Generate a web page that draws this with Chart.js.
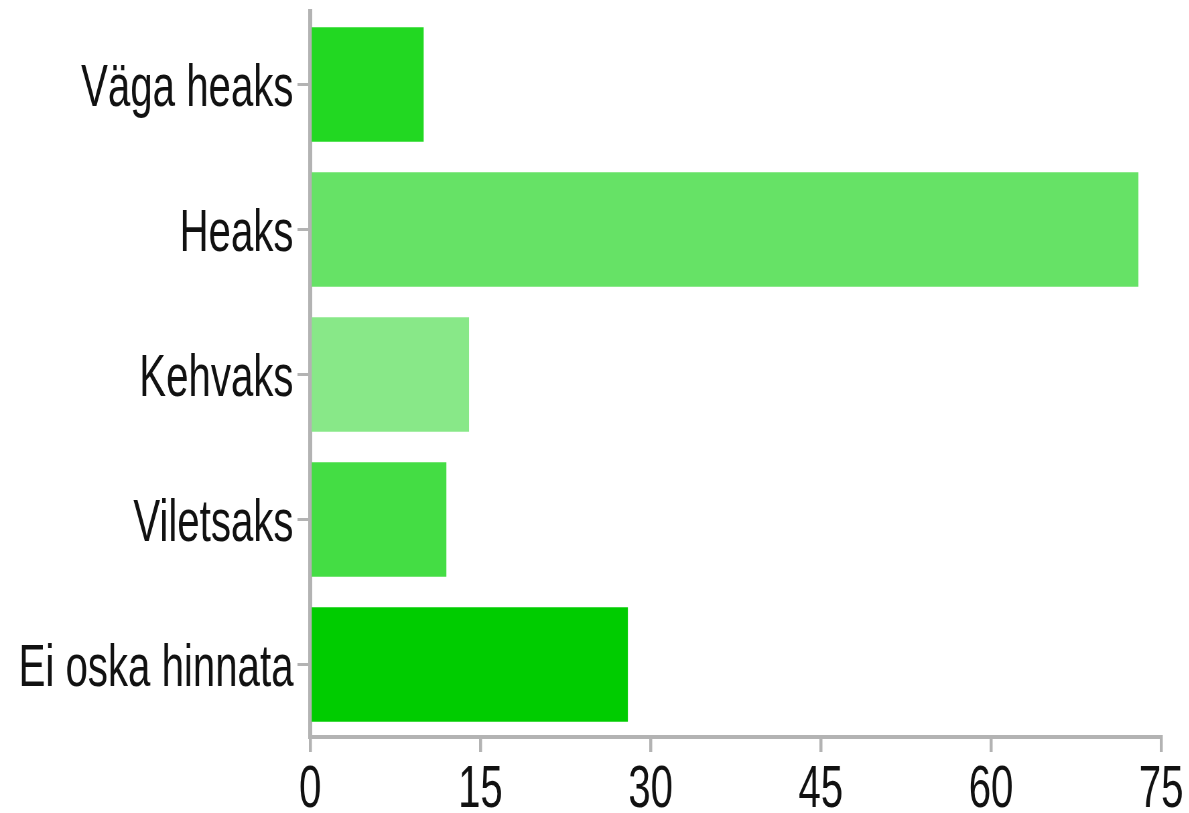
<!DOCTYPE html>
<html>
<head>
<meta charset="utf-8">
<script src="https://cdn.jsdelivr.net/npm/chart.js@4.4.1/dist/chart.umd.min.js"></script>
<style>
  html, body { margin: 0; padding: 0; background: #ffffff; overflow: hidden; }
  #marco { width: 1189px; height: 813px; overflow: hidden; }
  /* el texto del original es estrecho: se dibuja más ancho y se comprime en horizontal */
  #wrap { width: 1775px; height: 813px; transform: scaleX(0.67); transform-origin: 0 0; }
</style>
</head>
<body>
<div id="marco"><div id="wrap"><canvas id="grafico"></canvas></div></div>
<script>
// Datos del gráfico
const categorias = ["Väga heaks", "Heaks", "Kehvaks", "Viletsaks", "Ei oska hinnata"];
const valores = [10, 73, 14, 12, 28];
const colores = ["#22d822", "#66e266", "#88e888", "#44dd44", "#00cc00"];
const ticksX = [0, 15, 30, 45, 60, 75];

const gris = "#b3b3b3";
const fuente = { family: "'Liberation Sans', Arial, sans-serif", size: 60 };

const ctx = document.getElementById("grafico").getContext("2d");
new Chart(ctx, {
    type: "bar",
    data: {
        labels: categorias,
        datasets: [{
            data: valores,
            backgroundColor: colores,
            borderWidth: 0,
            barPercentage: 0.79,
            categoryPercentage: 1.0
        }]
    },
    options: {
        indexAxis: "y",
        responsive: true,
        maintainAspectRatio: false,
        animation: false,
        layout: { padding: { top: 12, right: 42, left: 0, bottom: 0 } },
        plugins: {
            legend: { display: false },
            tooltip: { enabled: false }
        },
        scales: {
            x: {
                min: 0,
                max: 75,
                afterBuildTicks: (eje) => { eje.ticks = ticksX.map(v => ({ value: v })); },
                afterFit: (eje) => { eje.height = 76; eje.paddingLeft = 0; eje.paddingRight = 0; },
                border: { display: true, color: gris, width: 4 },
                grid: { drawOnChartArea: false, drawTicks: true, tickLength: 15, color: gris, lineWidth: 4.5 },
                ticks: { color: "#111", font: fuente, padding: 2 }
            },
            y: {
                afterFit: (eje) => { eje.width = 463; eje.paddingTop = 0; eje.paddingBottom = 0; },
                border: { display: true, color: gris, width: 6 },
                grid: { offset: false, drawOnChartArea: false, drawTicks: true, tickLength: 19, color: gris, lineWidth: 3 },
                ticks: { color: "#111", font: fuente, padding: 6, labelOffset: 5 }
            }
        }
    }
});
</script>
</body>
</html>
